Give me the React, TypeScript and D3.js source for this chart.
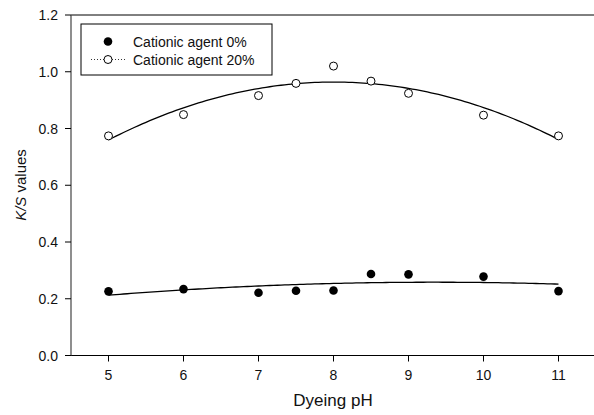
import React from "react";
import * as d3 from "d3";

const phValues = [5, 6, 7, 7.5, 8, 8.5, 9, 10, 11];
const agent0 = [0.226, 0.234, 0.221, 0.228, 0.229, 0.287, 0.286, 0.278, 0.227];
const agent20 = [0.774, 0.849, 0.916, 0.959, 1.02, 0.967, 0.924, 0.847, 0.774];
const xTicks = [5, 6, 7, 8, 9, 10, 11];
const yTicks = [0, 0.2, 0.4, 0.6, 0.8, 1.0, 1.2];
const seriesNames = ["Cationic agent 0%", "Cationic agent 20%"];

function quadFit(xs: number[], ys: number[]) {
  // least squares y = a + b x + c x^2
  let s0 = 0, s1 = 0, s2 = 0, s3 = 0, s4 = 0, t0 = 0, t1 = 0, t2 = 0;
  xs.forEach((x, i) => {
    const y = ys[i];
    s0 += 1; s1 += x; s2 += x * x; s3 += x * x * x; s4 += x * x * x * x;
    t0 += y; t1 += x * y; t2 += x * x * y;
  });
  const M = [
    [s0, s1, s2, t0],
    [s1, s2, s3, t1],
    [s2, s3, s4, t2],
  ];
  for (let i = 0; i < 3; i++) {
    for (let j = i + 1; j < 3; j++) {
      const f = M[j][i] / M[i][i];
      for (let k = i; k < 4; k++) M[j][k] -= f * M[i][k];
    }
  }
  const c = M[2][3] / M[2][2];
  const b = (M[1][3] - M[1][2] * c) / M[1][1];
  const a = (M[0][3] - M[0][1] * b - M[0][2] * c) / M[0][0];
  return (x: number) => a + b * x + c * x * x;
}

export default function App() {
  const W = 594, H = 415;
  const left = 71, right = 596, top = 15, bottom = 355.5;
  const x = d3.scaleLinear().domain([4.5, 11.5]).range([left, right]);
  const y = d3.scaleLinear().domain([0, 1.2]).range([bottom, top]);
  const font = "'Liberation Sans', Arial, sans-serif";

  const fitLine = (ys: number[]) => {
    const f = quadFit(phValues, ys);
    const pts = d3.range(5, 11.0001, 0.05).map((v) => [v, f(v)] as [number, number]);
    return d3.line<[number, number]>().x((d) => x(d[0])).y((d) => y(d[1]))(pts) || "";
  };

  return (
    <svg width={W} height={H} style={{ position: "absolute", left: 0, top: 0, background: "#fff" }} fontFamily={font}>
      <rect width={W} height={H} fill="#fff" />
      {/* frame */}
      <line x1={left} x2={right} y1={top} y2={top} stroke="#000" strokeWidth={1} />
      <line x1={left - 6} x2={right} y1={bottom} y2={bottom} stroke="#000" strokeWidth={1} />
      <line x1={left} x2={left} y1={top} y2={bottom} stroke="#444" strokeWidth={1.2} />
      {/* y ticks */}
      {yTicks.map((t) => (
        <g key={t}>
          <line x1={left - 6} x2={left} y1={y(t)} y2={y(t)} stroke="#000" />
          <text x={58} y={y(t)} dy="0.36em" textAnchor="end" fontSize={14} fill="#111">
            {t.toFixed(1)}
          </text>
        </g>
      ))}
      {/* x ticks */}
      {xTicks.map((t) => (
        <g key={t}>
          <line x1={x(t)} x2={x(t)} y1={bottom} y2={bottom + 6} stroke="#000" />
          <text x={x(t)} y={380} textAnchor="middle" fontSize={14} fill="#111">
            {t}
          </text>
        </g>
      ))}
      <text x={333} y={406} textAnchor="middle" fontSize={17} fill="#111">Dyeing pH</text>
      <text transform={`translate(26,185) rotate(-90)`} textAnchor="middle" fontSize={15} fill="#111">
        <tspan fontStyle="italic">K/S</tspan> values
      </text>
      {/* fitted curves */}
      <path d={fitLine(agent0)} fill="none" stroke="#000" strokeWidth={1.3} />
      <path d={fitLine(agent20)} fill="none" stroke="#000" strokeWidth={1.3} />
      {/* points */}
      {phValues.map((p, i) => (
        <circle key={"a" + i} cx={x(p)} cy={y(agent0[i])} r={4.3} fill="#000" />
      ))}
      {phValues.map((p, i) => (
        <circle key={"b" + i} cx={x(p)} cy={y(agent20[i])} r={4} fill="#fff" stroke="#000" strokeWidth={1} />
      ))}
      {/* legend */}
      <rect x={81} y={24} width={191} height={51} fill="#fff" stroke="#000" strokeWidth={1} />
      <circle cx={108} cy={41.5} r={4.3} fill="#000" />
      <text x={133} y={41.5} dy="0.36em" fontSize={14} fill="#111">{seriesNames[0]}</text>
      <line x1={91} x2={125} y1={59.5} y2={59.5} stroke="#000" strokeWidth={0.8} strokeDasharray="1,2" />
      <circle cx={108} cy={59.5} r={4} fill="#fff" stroke="#000" strokeWidth={1} />
      <text x={133} y={59.5} dy="0.36em" fontSize={14} fill="#111">{seriesNames[1]}</text>
    </svg>
  );
}
